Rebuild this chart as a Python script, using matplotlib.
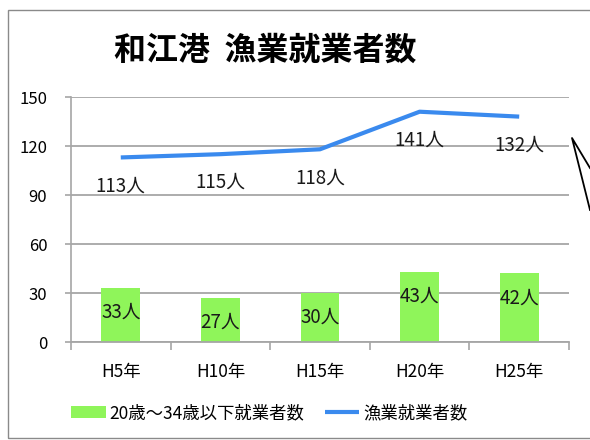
import matplotlib
matplotlib.use("Agg")
import matplotlib.pyplot as plt
from matplotlib.patches import Rectangle
from matplotlib.lines import Line2D

plt.rcParams["font.family"] = ["Noto Sans CJK JP", "DejaVu Sans"]

# ---- data ----
years = ["H5年", "H10年", "H15年", "H20年", "H25年"]
young_workers = [33, 27, 30, 43, 42]
all_workers = [113, 115, 118, 141, 138]
all_labels = ["113人", "115人", "118人", "141人", "132人"]

GREEN = "#8ff55a"
BLUE = "#3a8aee"
GRID = "#a6a6a6"

fig = plt.figure(figsize=(5.9, 4.4), dpi=100)
ax = fig.add_axes([0.1203, 0.2227, 0.8441, 0.5568])

x = list(range(len(years)))
bars = ax.bar(x, young_workers, width=0.39, color=GREEN, zorder=2,
              label="20歳～34歳以下就業者数")
line, = ax.plot(x, all_workers, color=BLUE, lw=3, zorder=3, label="漁業就業者数",
                solid_capstyle="butt")

for xi, v in zip(x, young_workers):
    ax.annotate(f"{v}人", (xi, v), xytext=(0, -17.5), textcoords="offset points",
                ha="center", va="center", fontsize=13.5, color="#1a1a1a")
for xi, v, lab in zip(x, all_workers, all_labels):
    ax.annotate(lab, (xi, v), xytext=(0, -20.5), textcoords="offset points",
                ha="center", va="center", fontsize=13.5, color="#1a1a1a")

ax.set_xlim(-0.5, len(years) - 0.5)
ax.set_ylim(0, 150)
ax.set_yticks(range(0, 151, 30))
ax.set_xticks(x)
ax.set_xticklabels(years, fontsize=12.5)
ax.set_xticks([i - 0.5 for i in range(len(years) + 1)], minor=True)
ax.tick_params(axis="x", which="major", length=0, pad=15)
ax.tick_params(axis="x", which="minor", length=6, color=GRID, width=1.2)
ax.tick_params(axis="y", length=4, color=GRID, width=1.2, pad=13, labelsize=12)

ax.grid(axis="y", color=GRID, lw=1.3, zorder=1)
for side in ["top", "right"]:
    ax.spines[side].set_visible(False)
ax.spines["left"].set_color(GRID)
ax.spines["bottom"].set_color(GRID)
ax.spines["left"].set_linewidth(1.2)
ax.spines["bottom"].set_linewidth(1.3)

fig.text(0.449, 0.886, "和江港  漁業就業者数", ha="center", va="center",
         fontsize=23, fontweight="bold")

fig.legend([bars, line], ["20歳～34歳以下就業者数", "漁業就業者数"],
           loc="center", bbox_to_anchor=(0.456, 0.061), ncol=2, frameon=False,
           fontsize=12.5, handlelength=2.0, handleheight=0.7, columnspacing=1.2,
           handletextpad=0.2)

# chart border and callout lines
fig.patches.append(Rectangle((8 / 590, 2 / 440), 1.2, 428 / 440,
                             transform=fig.transFigure, fill=False,
                             edgecolor="#8a8a8a", lw=1))
fig.lines.append(Line2D([1.0, 572 / 590, 1.0],
                        [1 - 168 / 440, 1 - 138 / 440, 1 - 210 / 440],
                        transform=fig.transFigure, color="black", lw=1.3))

fig.savefig("out.png", dpi=100)
